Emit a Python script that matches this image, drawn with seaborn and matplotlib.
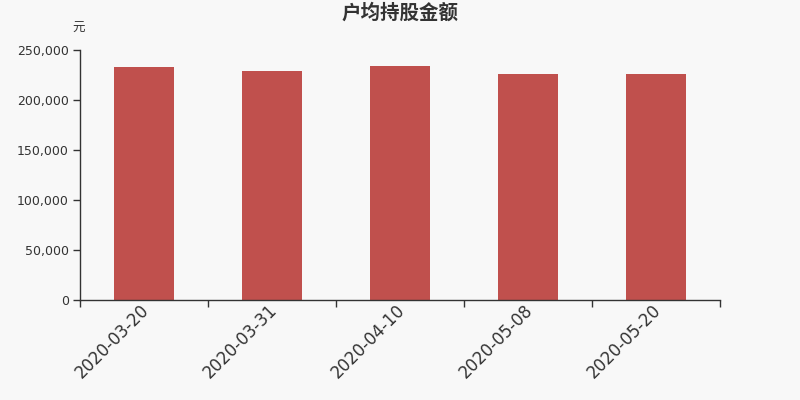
import matplotlib
matplotlib.use("Agg")
import matplotlib.pyplot as plt
import matplotlib.transforms as mtransforms
import seaborn as sns
import pandas as pd
from matplotlib.ticker import FuncFormatter, FixedLocator

dates = ["2020-03-20", "2020-03-31", "2020-04-10", "2020-05-08", "2020-05-20"]
values = [233000, 229000, 233700, 225700, 226300]
title = "户均持股金额"
unit = "元"

sns.set_theme(style="white")
plt.rcParams['font.family'] = ['Noto Sans CJK SC', 'DejaVu Sans']

bg = "#f8f8f8"
fig = plt.figure(figsize=(8, 4), dpi=100, facecolor=bg)
ax = fig.add_axes([80/800, 100/400, 640/800, 250/400])
ax.set_facecolor(bg)

df = pd.DataFrame({"date": dates, "value": values})
sns.barplot(data=df, x="date", y="value", color="#c0504d", saturation=1,
            width=0.47, linewidth=0, ax=ax)

ax.set_xlim(-0.5, len(dates) - 0.5)
ax.set_ylim(0, 250000)
ax.set_yticks([0, 50000, 100000, 150000, 200000, 250000])
ax.yaxis.set_major_formatter(FuncFormatter(lambda v, p: f"{int(v):,}"))

# ticks at category boundaries, labels at centres
ax.xaxis.set_major_locator(FixedLocator([i - 0.5 for i in range(len(dates) + 1)]))
ax.set_xticklabels([""] * (len(dates) + 1))
ax.xaxis.set_minor_locator(FixedLocator(list(range(len(dates)))))
ax.set_xticklabels(dates, minor=True, rotation=45, ha="right", rotation_mode="anchor",
                   fontsize=12, color="#333333", family=['DejaVu Sans'])
ax.tick_params(axis="x", which="minor", bottom=True, length=0, pad=1)
ax.tick_params(axis="x", which="major", bottom=True, length=5, width=1,
               color="#333333", direction="out")
ax.tick_params(axis="y", left=True, length=5, width=1, color="#333333", labelsize=9,
               labelcolor="#333333", direction="out", pad=3)
for lab in ax.get_yticklabels():
    lab.set_family(['DejaVu Sans'])

offset = mtransforms.ScaledTranslation(-4/100, 0, fig.dpi_scale_trans)
for lab in ax.get_xticklabels(minor=True):
    lab.set_transform(lab.get_transform() + offset)

for s in ["top", "right"]:
    ax.spines[s].set_visible(False)
for s in ["left", "bottom"]:
    ax.spines[s].set_color("#333333")
    ax.spines[s].set_linewidth(1)

ax.set_xlabel("")
ax.set_ylabel("")

fig.text(400/800, 1 - 13/400, title, ha="center", va="center", fontsize=14,
         fontweight="bold", color="#333333")
fig.text(79/800, 1 - 28/400, unit, ha="center", va="center", fontsize=9,
         color="#333333")

fig.savefig("out.png", dpi=100, facecolor=bg)
